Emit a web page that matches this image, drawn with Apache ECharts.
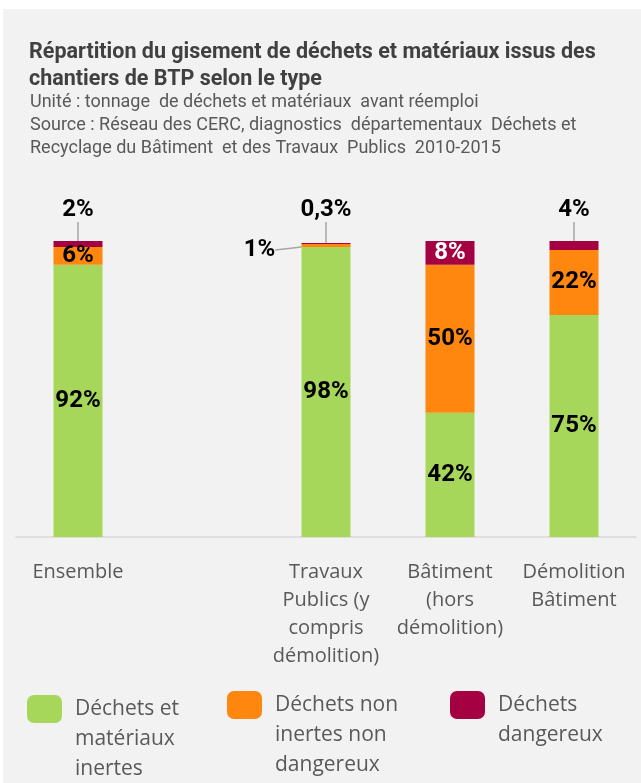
<!DOCTYPE html>
<html>
<head>
<meta charset="utf-8">
<script src="https://cdn.jsdelivr.net/npm/echarts@6/dist/echarts.min.js"></script>
<style>
  body { margin: 0; background: #fff; }
  #wrap { position: relative; width: 641px; height: 783px; }
  #panel { position: absolute; left: 3px; top: 9px; right: 0; bottom: 0; background: #f2f2f2; }
  #chart { position: absolute; left: 0; top: 0; width: 641px; height: 783px; }
</style>
</head>
<body>
<div id="wrap"><div id="panel"></div><div id="chart"></div></div>
<script>
const categories = [
    'Ensemble',
    '',
    'Travaux\nPublics (y\ncompris\ndémolition)',
    'Bâtiment\n(hors\ndémolition)',
    'Démolition\nBâtiment'
];
const inertes = [92, '-', 98, 42, 75];
const nonDangereux = [6, '-', 1, 50, 22];
const dangereux = [2, '-', 0.3, 8, 4];
const seriesNames = [
    'Déchets et\nmatériaux\ninertes',
    'Déchets non\ninertes non\ndangereux',
    'Déchets\ndangereux'
];
const colors = ['#a6d65a', '#ff860f', '#a50041'];

const pct = (p) => String(p.value).replace('.', ',') + '%';
const labelFont = { fontFamily: 'Roboto', fontWeight: 'bold', fontSize: 24, color: '#000' };

const chart = echarts.init(document.getElementById('chart'));

// blank lines before the name push the text down so it starts beside the icon
const LH = 30;
function legendItem(name, left, iconTop, blank) {
    const lines = name.split('\n').length + blank;
    return {
        data: [name],
        left: left,
        top: iconTop + 14 - lines * LH / 2,
        padding: 0,
        orient: 'vertical',
        icon: 'roundRect',
        itemWidth: 35,
        itemHeight: 28,
        itemGap: 0,
        selectedMode: false,
        formatter: (n) => '\n'.repeat(blank) + n.split('\n').map((s) => '{t|' + s + '}').join('\n'),
        textStyle: {
            fontFamily: 'Open Sans', fontSize: 21, color: '#595959', lineHeight: LH,
            rich: { t: { fontFamily: 'Open Sans', fontSize: 21, color: '#595959', lineHeight: LH, padding: [0, 0, 0, 8] } }
        }
    };
}

chart.setOption({
    backgroundColor: 'transparent',
    color: colors,
    title: [
        {
            text: 'Répartition du gisement de déchets et matériaux issus des\nchantiers de BTP selon le type',
            left: 29, top: 39, padding: 0,
            textStyle: { fontFamily: 'Roboto', fontWeight: 'bold', fontSize: 21.5, color: '#404040', lineHeight: 27 }
        },
        {
            text: 'Unité : tonnage  de déchets et matériaux  avant réemploi\nSource : Réseau des CERC, diagnostics  départementaux  Déchets et\nRecyclage du Bâtiment  et des Travaux  Publics  2010-2015',
            left: 30, top: 91, padding: 0,
            textStyle: { fontFamily: 'Roboto', fontWeight: 'normal', fontSize: 18, color: '#595959', lineHeight: 23 }
        }
    ],
    legend: [
        legendItem(seriesNames[0], 27, 695, 2),
        legendItem(seriesNames[1], 227, 691, 2),
        legendItem(seriesNames[2], 450, 691, 1)
    ],
    grid: { left: 16, right: 5, top: 241, bottom: 246 },
    xAxis: {
        type: 'category',
        data: categories,
        axisLine: { lineStyle: { color: '#d9d9d9', width: 1.5 } },
        axisTick: { show: false },
        axisLabel: {
            interval: 0,
            margin: 21,
            fontFamily: 'Open Sans',
            fontSize: 20,
            lineHeight: 28,
            color: '#595959'
        }
    },
    yAxis: { type: 'value', min: 0, max: 100, show: false },
    series: [
        {
            name: seriesNames[0], type: 'bar', stack: 'total', barWidth: 49,
            data: inertes,
            label: Object.assign({ show: true, position: 'inside', formatter: pct }, labelFont)
        },
        {
            name: seriesNames[1], type: 'bar', stack: 'total', barWidth: 49,
            data: nonDangereux,
            label: Object.assign({ show: true, position: 'inside', formatter: pct }, labelFont),
            labelLine: { show: true, lineStyle: { color: '#a6a6a6', width: 1.5 } },
            labelLayout: (p) => p.dataIndex === 2 ? { x: p.rect.x - 42, y: p.rect.y + 6, align: 'center', verticalAlign: 'middle' } : {}
        },
        {
            name: seriesNames[2], type: 'bar', stack: 'total', barWidth: 49,
            data: dangereux.map((v, i) => i === 3 ? { value: v, label: { color: '#fff' } } : v),
            label: Object.assign({ show: true, position: 'inside', formatter: pct }, labelFont),
            labelLine: { show: true, lineStyle: { color: '#a6a6a6', width: 1.5 } },
            labelLayout: (p) => p.dataIndex === 3 ? {} : { x: p.rect.x + p.rect.width / 2, y: 210, align: 'center', verticalAlign: 'middle' }
        }
    ]
});
</script>
</body>
</html>
